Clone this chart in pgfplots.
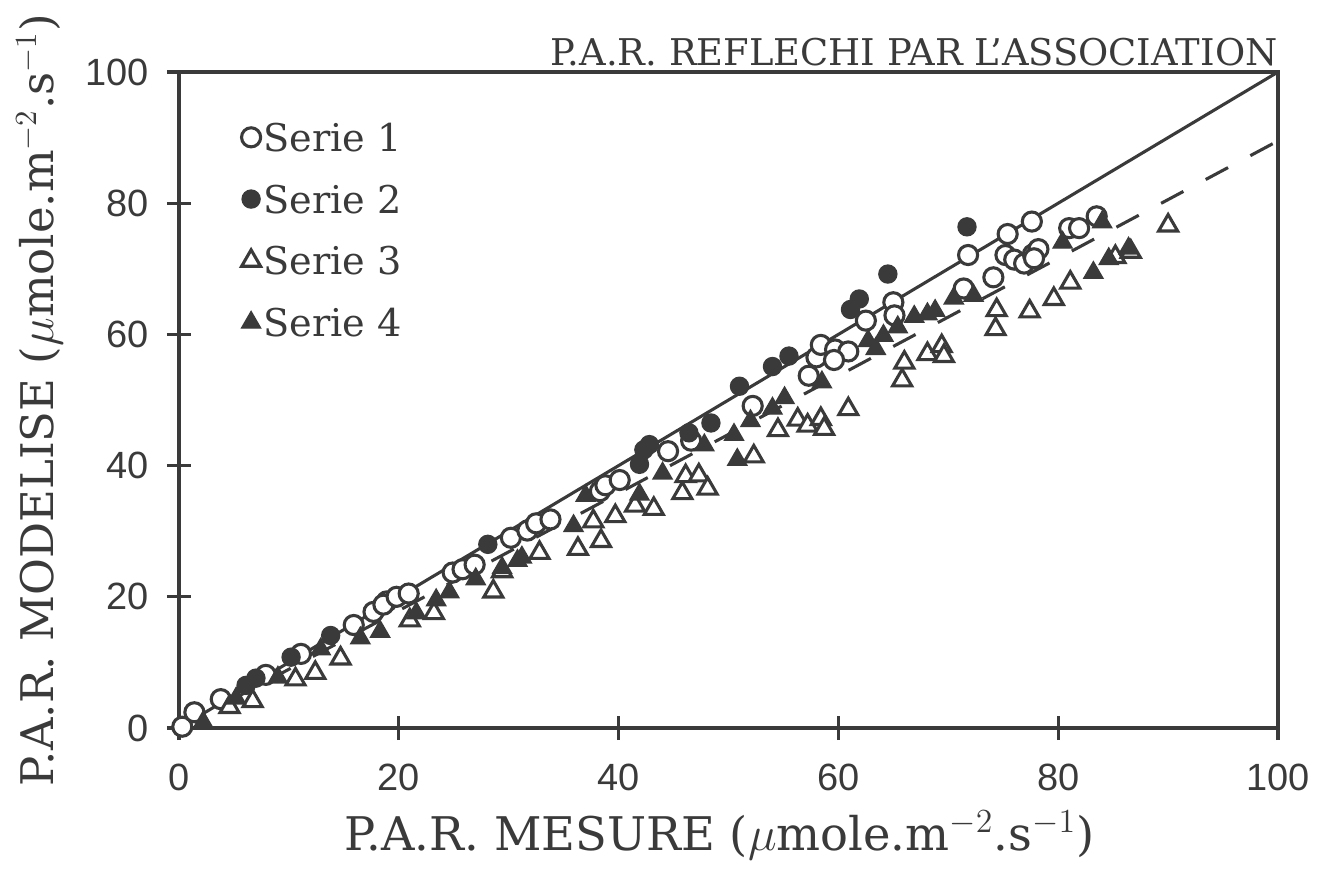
\documentclass[border=0pt]{standalone}
\usepackage{fontspec}
\setmainfont{DejaVu Serif}
\newfontfamily\tickfont{Liberation Sans}
\usepackage{pgfplots}
\pgfplotsset{compat=1.18}
\definecolor{ink}{RGB}{58,58,58}
\begin{document}
\begin{tikzpicture}
\begin{axis}[
  scale only axis, width=13.7375cm, height=8.2cm,
  xmin=0, xmax=100, ymin=0, ymax=100,
  xtick={0,20,...,100}, ytick={0,20,...,100},
  tick pos=left, tick align=center, major tick length=0.3cm,
  axis line style={ink, line width=1.1pt},
  every tick/.style={ink, line width=1.1pt},
  /pgf/number format/assume math mode=true,
  ticklabel style={font=\tickfont\fontsize{13.5}{15}\selectfont, text=ink},
  xticklabel style={yshift=-0.17cm},
  yticklabel style={xshift=-0.1cm},
  clip=false,
  legend cell align=left,
  legend style={at={(rel axis cs:0.0564,0.927)}, anchor=north west, draw=none, fill=none,
    inner sep=0pt, row sep=0.35cm, column sep=0pt,
    font=\fontsize{13.6}{16}\selectfont, text=ink,
    nodes={inner sep=1pt, text height=10pt, text depth=0pt}},
  legend image code/.code={\draw[#1] plot coordinates {(0.14cm,0cm)};},
]
\addplot[ink, line width=1.1pt, forget plot] coordinates {(0,0) (100,100)};
\addplot[ink, line width=1.1pt, dash pattern=on 9pt off 9pt, forget plot] coordinates {(0,0) (100,89.5)};

% Serie 1 : open circles
\addplot[only marks, mark=*, mark size=3.4pt, mark options={draw=ink, fill=white, line width=1.1pt}] coordinates {
(0.3,0.2) (1.4,2.4) (3.8,4.4) (7.9,8.1) (11.1,11.3) (15.9,15.7) (17.7,17.7) (18.9,19.3)
(18.6,18.8) (19.8,20.0) (20.9,20.5) (24.9,23.7) (25.8,24.2) (26.9,24.9) (30.2,29.0)
(31.7,30.1) (32.5,31.2) (33.8,31.8) (38.3,36.1) (38.8,37.0) (40.1,37.8) (44.5,42.2)
(46.6,43.8) (52.2,49.1) (57.3,53.7) (58.0,56.5) (58.4,58.4) (59.7,57.7) (60.9,57.4)
(59.6,56.1) (62.5,62.1) (65.0,64.9) (65.1,62.9) (71.4,67.0) (74.1,68.7) (71.8,72.1)
(75.4,75.3) (75.2,72.1) (76.0,71.4) (76.9,70.8) (77.7,72.2) (77.6,77.2) (78.2,73.0)
(77.8,71.6) (81.0,76.2) (81.9,76.2) (83.5,78.0)
};
\addlegendentry{Serie 1}

% Serie 2 : filled circles
\addplot[only marks, mark=*, mark size=3.2pt, mark options={draw=ink, fill=ink, line width=0.5pt}] coordinates {
(6.1,6.5) (7.0,7.6) (10.2,10.8) (13.8,14.1) (28.1,28.0) (41.9,40.2) (42.3,42.4)
(42.8,43.2) (46.4,45.0) (48.4,46.5) (51.0,52.1) (54.0,55.1) (55.5,56.7) (61.1,63.8)
(61.9,65.4) (64.5,69.2) (71.7,76.4)
};
\addlegendentry{Serie 2}

% Serie 3 : open triangles
\addplot[only marks, mark=triangle*, mark size=3.9pt, mark options={draw=ink, fill=white, line width=1.1pt}] coordinates {
(4.6,3.2) (6.7,4.1) (10.6,7.4) (12.4,8.4) (14.7,10.6) (21.0,16.4) (23.2,17.5) (28.6,20.8)
(29.4,23.9) (32.8,26.7) (36.3,27.3) (38.4,28.5) (37.7,31.5) (39.7,32.3) (41.5,33.9)
(43.2,33.4) (45.8,35.8) (46.1,38.4) (47.3,38.5) (48.1,36.5) (52.3,41.4) (54.5,45.4)
(56.3,47.0) (57.2,46.1) (58.4,47.1) (58.7,45.6) (60.9,48.6) (65.8,53.0) (66.0,55.7)
(68.1,57.0) (69.4,58.2) (69.6,56.7) (74.3,60.8) (74.4,63.7) (77.4,63.5) (79.6,65.4)
(81.1,67.9) (85.2,71.8) (86.6,72.6) (90.0,76.6)
};
\addlegendentry{Serie 3}

% Serie 4 : filled triangles
\addplot[only marks, mark=triangle*, mark size=3.9pt, mark options={draw=ink, fill=ink, line width=0.5pt}] coordinates {
(2.2,0.9) (5.2,4.5) (9.0,7.7) (12.9,12.0) (16.5,13.7) (18.3,14.7) (21.6,17.5) (23.4,19.5)
(24.6,20.7) (27.0,22.7) (29.4,24.4) (30.8,25.5) (31.2,26.0) (35.9,30.8) (37.0,35.4)
(41.9,35.6) (44.0,38.8) (47.8,43.1) (50.5,44.7) (50.8,40.9) (52.0,46.8) (54.0,48.7)
(55.1,50.3) (58.5,52.7) (62.7,59.0) (63.4,57.8) (64.1,59.8) (65.4,61.1) (66.9,62.7)
(68.1,63.1) (68.8,63.6) (70.5,65.5) (72.3,65.9) (80.4,74.0) (84.0,77.1) (83.2,69.4)
(84.6,71.5) (86.4,73.1)
};
\addlegendentry{Serie 4}

\coordinate (O) at (rel axis cs:0,0);
\coordinate (T) at (rel axis cs:1,1);
\node[xshift=-1.74cm, rotate=90, font=\fontsize{16}{19}\selectfont, text=ink] at (rel axis cs:0,0.5)
  {P.A.R. MODELISE ($\mu$mole.m$^{-2}$.s$^{-1}$)};
\node[yshift=-1.34cm, font=\fontsize{16.5}{19}\selectfont, text=ink] at (rel axis cs:0.492,0)
  {P.A.R. MESURE ($\mu$mole.m$^{-2}$.s$^{-1}$)};
\node[anchor=base east, yshift=0.08cm, inner sep=0pt, font=\fontsize{13.1}{15}\selectfont, text=ink] at (rel axis cs:1,1)
  {P.A.R. REFLECHI PAR L'ASSOCIATION};
\end{axis}
\path[use as bounding box] ([xshift=-2.2375cm,yshift=-1.925cm]O) rectangle ([xshift=0.55cm,yshift=0.9cm]T);
\end{tikzpicture}
\end{document}
